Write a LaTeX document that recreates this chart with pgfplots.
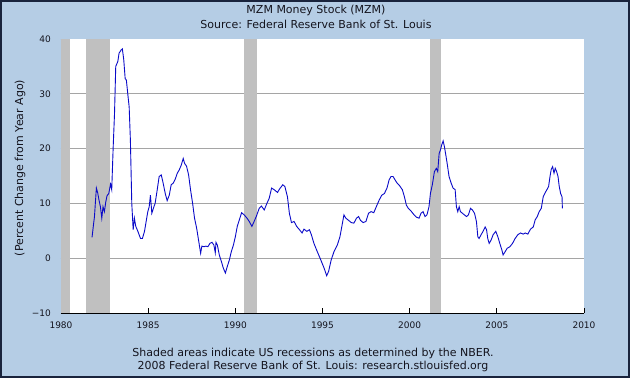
\documentclass[border=0pt]{standalone}
\usepackage{pgfplots}
\pgfplotsset{compat=1.18}
\usepackage{pgfplotstable}
\usepackage{fontspec}
\setmainfont{DejaVu Sans}
\definecolor{bgblue}{RGB}{181,205,229}
\definecolor{framecol}{RGB}{25,35,60}
\definecolor{recgray}{RGB}{192,192,192}
\definecolor{gridgray}{RGB}{165,165,165}
\definecolor{lineblue}{RGB}{10,10,200}
\definecolor{txt}{RGB}{20,20,30}
\pgfplotstableread{
x y
1981.78 3.8
1981.86 6.0
1981.92 7.6
1981.98 10.5
1982.03 12.8
1982.10 12.0
1982.18 10.6
1982.26 9.4
1982.34 7.3
1982.41 9.4
1982.49 8.5
1982.57 10.3
1982.64 11.4
1982.74 11.8
1982.84 13.5
1982.91 12.5
1982.99 20.0
1983.07 26.4
1983.14 35.0
1983.26 35.9
1983.33 37.4
1983.45 38.0
1983.52 38.2
1983.60 36.2
1983.68 32.8
1983.75 32.5
1983.83 30.0
1983.91 27.6
1983.98 21.6
1984.06 10.0
1984.14 5.2
1984.21 7.3
1984.29 5.8
1984.41 4.9
1984.56 3.6
1984.67 3.6
1984.79 4.9
1984.90 7.0
1984.98 8.5
1985.06 9.4
1985.13 11.5
1985.21 8.2
1985.33 9.4
1985.40 10.0
1985.52 12.5
1985.63 14.9
1985.75 15.2
1985.86 13.7
1985.98 11.8
1986.09 10.5
1986.21 11.5
1986.32 13.4
1986.44 13.7
1986.55 14.4
1986.67 15.5
1986.78 16.1
1986.90 17.0
1987.01 18.2
1987.09 17.3
1987.20 16.8
1987.32 15.2
1987.43 12.5
1987.55 10.0
1987.66 7.3
1987.78 5.5
1987.89 3.3
1988.01 0.9
1988.08 2.2
1988.20 2.1
1988.31 2.2
1988.43 2.1
1988.54 2.7
1988.66 2.9
1988.77 2.4
1988.85 1.0
1988.89 2.9
1988.97 2.4
1989.08 0.6
1989.20 -0.6
1989.31 -1.8
1989.43 -2.7
1989.54 -1.5
1989.66 -0.3
1989.77 1.2
1989.89 2.4
1990.00 3.9
1990.11 5.8
1990.23 7.0
1990.36 8.3
1990.51 7.9
1990.67 7.3
1990.80 6.7
1990.95 5.8
1991.05 6.5
1991.20 7.6
1991.37 9.1
1991.50 9.5
1991.66 8.8
1991.81 10.0
1991.94 10.9
1992.08 12.8
1992.23 12.5
1992.42 12.0
1992.53 12.6
1992.72 13.4
1992.84 13.1
1992.99 11.2
1993.10 8.2
1993.22 6.5
1993.37 6.7
1993.52 5.8
1993.68 5.2
1993.83 4.6
1993.94 5.3
1994.10 4.9
1994.25 5.2
1994.36 4.3
1994.51 2.7
1994.70 1.2
1994.90 -0.3
1995.09 -1.8
1995.24 -3.2
1995.35 -2.4
1995.50 -0.3
1995.66 1.2
1995.85 2.4
1996.00 3.9
1996.11 5.8
1996.23 7.9
1996.34 7.3
1996.50 6.9
1996.65 6.5
1996.80 6.4
1996.95 7.3
1997.07 7.6
1997.18 6.9
1997.33 6.5
1997.49 6.7
1997.64 8.2
1997.79 8.5
1997.94 8.3
1998.10 9.5
1998.25 10.6
1998.40 11.5
1998.55 11.8
1998.70 12.8
1998.82 14.3
1998.93 14.9
1999.05 14.9
1999.16 14.3
1999.28 13.7
1999.43 13.2
1999.58 12.5
1999.70 11.2
1999.81 9.7
1999.92 9.1
2000.08 8.6
2000.23 8.0
2000.38 7.5
2000.54 7.3
2000.65 8.2
2000.77 8.5
2000.88 7.6
2000.99 7.9
2001.11 9.4
2001.19 11.8
2001.30 13.4
2001.42 15.8
2001.53 16.4
2001.61 15.8
2001.69 19.1
2001.76 19.7
2001.84 20.7
2001.92 21.4
2001.99 20.4
2002.07 18.9
2002.15 17.3
2002.26 14.9
2002.38 13.7
2002.49 12.8
2002.61 12.5
2002.68 9.4
2002.76 8.5
2002.84 9.4
2002.91 8.5
2003.03 8.2
2003.14 7.9
2003.26 7.6
2003.37 7.9
2003.49 9.1
2003.60 8.8
2003.72 8.2
2003.83 6.7
2003.91 3.9
2003.98 3.6
2004.10 4.3
2004.21 4.9
2004.33 5.7
2004.41 5.2
2004.48 3.6
2004.56 2.7
2004.67 3.3
2004.79 4.3
2004.94 4.9
2005.06 3.9
2005.17 2.7
2005.29 1.5
2005.36 0.6
2005.48 1.2
2005.59 1.8
2005.75 2.1
2005.90 2.7
2006.05 3.6
2006.21 4.3
2006.36 4.6
2006.51 4.4
2006.63 4.6
2006.78 4.4
2006.93 5.3
2007.09 5.7
2007.20 7.0
2007.32 7.6
2007.43 8.5
2007.55 9.1
2007.66 11.2
2007.78 12.0
2007.89 12.6
2007.97 13.1
2008.05 14.9
2008.12 16.2
2008.20 16.7
2008.28 15.5
2008.35 16.4
2008.43 15.8
2008.51 14.9
2008.58 13.1
2008.66 11.8
2008.74 11.2
2008.76 9.1
}\mzm
\begin{document}
\begin{tikzpicture}
\useasboundingbox (-61bp,-65bp) rectangle (569bp,313bp);
\fill[bgblue] (-61bp,-65bp) rectangle (569bp,313bp);
\draw[framecol, line width=1.6bp] (-60.2bp,-64.2bp) rectangle (568.2bp,312.2bp);
\begin{axis}[
  at={(0,0)}, anchor=south west,
  scale only axis, width=523bp, height=274bp,
  xmin=1980, xmax=2010, ymin=-10, ymax=40,
  axis background/.style={fill=white},
  axis x line*=bottom, axis y line*=left,
  axis line style={black, line width=0.9bp, -},
  xtick={1980,1985,...,2010},
  xticklabels={1980,1985,1990,1995,2000,2005,2010},
  ytick={-10,0,10,20,30,40},
  yticklabels={−10,0,10,20,30,40},
  extra y ticks={0,10,20,30},
  extra y tick labels={},
  extra y tick style={grid=major, major tick length=0pt},
  major grid style={gridgray, line width=0.8bp},
  tick align=inside,
  major tick length=5bp,
  tick style={black, line width=0.8bp},
  xticklabel style={font=\fontsize{9bp}{11bp}\selectfont, text=txt, inner sep=0pt, anchor=north, yshift=-8.5bp},
  yticklabel style={font=\fontsize{9bp}{11bp}\selectfont, text=txt, inner sep=0pt, anchor=east, xshift=-10bp},
  clip=true,
]
\addplot[fill=recgray, draw=none] coordinates {(1980,-10) (1980,40) (1980.52,40) (1980.52,-10)} -- cycle;
\addplot[fill=recgray, draw=none] coordinates {(1981.45,-10) (1981.45,40) (1982.82,40) (1982.82,-10)} -- cycle;
\addplot[fill=recgray, draw=none] coordinates {(1990.48,-10) (1990.48,40) (1991.22,40) (1991.22,-10)} -- cycle;
\addplot[fill=recgray, draw=none] coordinates {(2001.16,-10) (2001.16,40) (2001.8,40) (2001.8,-10)} -- cycle;
\addplot[lineblue, line width=0.9bp, mark=none] table[x=x, y=y] {\mzm};
\end{axis}
\begin{scope}[every node/.style={text=txt, font=\fontsize{11bp}{13bp}\selectfont, inner sep=0pt}]
\node at (255bp,302.5bp) {MZM Money Stock (MZM)};
\node at (255bp,289bp) {Source: Federal Reserve Bank of St. Louis};
\node at (252bp,-40bp) {Shaded areas indicate US recessions as determined by the NBER.};
\node at (252bp,-53bp) {2008 Federal Reserve Bank of St. Louis: research.stlouisfed.org};
\node[rotate=90] at (-41bp,145bp) {(Percent Change from Year Ago)};
\end{scope}
\end{tikzpicture}
\end{document}
